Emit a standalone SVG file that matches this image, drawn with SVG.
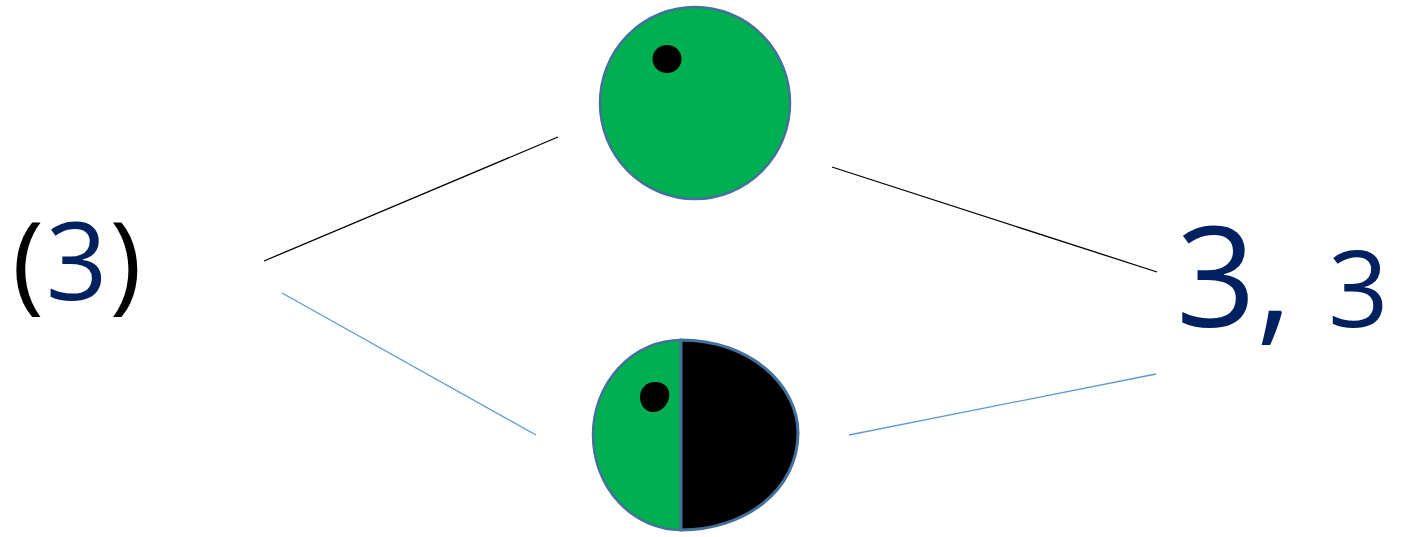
<svg xmlns="http://www.w3.org/2000/svg" width="1401" height="537" viewBox="0 0 1401 537">
<style>
.t{font-family:"Open Sans","Liberation Sans",sans-serif;font-weight:500;}
.navy{fill:#002060;}
.blk{fill:#000000;}
.ball{fill:#00B050;stroke:#41719C;stroke-width:2.5;}
.eye{fill:#000000;}
</style>
<rect width="1401" height="537" fill="#ffffff"/>
<g id="connectors">
<line x1="264" y1="261" x2="558" y2="137" stroke="#000000" stroke-width="1.3"/>
<line x1="832" y1="167" x2="1157" y2="272" stroke="#000000" stroke-width="1.3"/>
<line x1="282" y1="293" x2="536" y2="435" stroke="#5B9BD5" stroke-width="1.3"/>
<line x1="849" y1="435" x2="1156" y2="374" stroke="#5B9BD5" stroke-width="1.3"/>
</g>
<g id="label-left">
<text class="t" y="300" font-size="108"><tspan class="blk" x="12">(</tspan><tspan class="navy" dx="2">3</tspan><tspan class="blk" dx="2">)</tspan></text>
</g>
<g id="top-ball">
<ellipse class="ball" cx="695" cy="103" rx="95" ry="96"/>
<ellipse class="eye" cx="667" cy="59" rx="14.5" ry="14"/>
</g>
<g id="bottom-ball">
<path d="M681,340 A88,95 0 0 0 681,530 Z" fill="#00B050" stroke="#41719C" stroke-width="2.5"/>
<path d="M681,340 C750,340 798,385 798,433 C798,490 745,530 681,530 Z" fill="#000000" stroke="#41719C" stroke-width="3"/>
<path d="M655,382 C664,382 671,388 669,398 C667,406 661,412 653,412 C645,412 640,405 640,397 C640,388 647,382 655,382 Z" fill="#000000"/>
</g>
<g id="label-right">
<text class="t navy" y="327"><tspan x="1176" font-size="140">3,</tspan><tspan x="1328" font-size="106">3</tspan></text>
</g>
</svg>
